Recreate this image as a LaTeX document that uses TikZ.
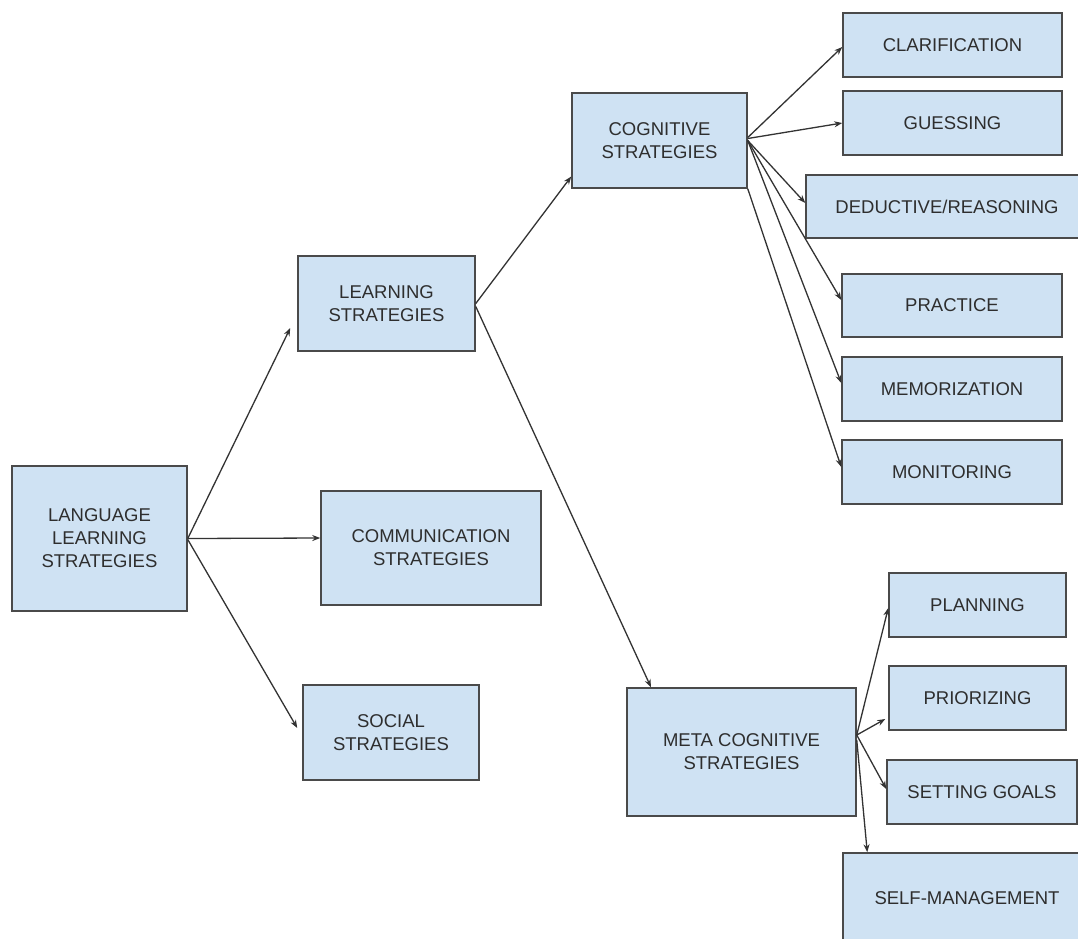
\documentclass[tikz,border=0pt]{standalone}
\usepackage{fontspec}
\setmainfont{Liberation Sans}
\usetikzlibrary{arrows.meta}
\definecolor{boxfill}{HTML}{CFE2F3}
\definecolor{boxline}{HTML}{4A4A4A}
\definecolor{txt}{HTML}{2E2E2E}
\definecolor{conn}{HTML}{333333}
\begin{document}
\begin{tikzpicture}[x=1pt,y=-1pt,
  box/.style={draw=boxline, line width=1.5pt, fill=boxfill, rectangle, inner sep=0pt,
    align=center, text=txt, font=\fontsize{18.5}{23}\selectfont},
  conn/.style={draw=conn, line width=1.3pt, -{Stealth[length=8pt,width=6pt]}}]
\fill[white] (0,0) rectangle (1078,938);
\useasboundingbox (0,0) rectangle (1078,938);
\clip (0,0) rectangle (1078,938);

\node[box, minimum width=175pt, minimum height=145pt] (lls) at (99.5,538.5) {LANGUAGE\\LEARNING\\STRATEGIES};
\node[box, minimum width=177pt, minimum height=95pt] (ls) at (386.5,303.5) {LEARNING\\STRATEGIES};
\node[box, minimum width=220pt, minimum height=114pt] (comm) at (431,548) {COMMUNICATION\\STRATEGIES};
\node[box, minimum width=176pt, minimum height=95pt] (soc) at (391,732.5) {SOCIAL\\STRATEGIES};
\node[box, minimum width=175pt, minimum height=95pt] (cog) at (659.5,140.5) {COGNITIVE\\STRATEGIES};
\node[box, minimum width=229pt, minimum height=128pt] (meta) at (741.5,752) {META COGNITIVE\\STRATEGIES};
\node[box, minimum width=219pt, minimum height=64pt] (clar) at (952.5,45) {CLARIFICATION};
\node[box, minimum width=219pt, minimum height=64pt] (gues) at (952.5,123) {GUESSING};
\node[box, minimum width=282pt, minimum height=63pt] (ded) at (947,206.5) {DEDUCTIVE/REASONING};
\node[box, minimum width=220pt, minimum height=63pt] (prac) at (952,305.5) {PRACTICE};
\node[box, minimum width=220pt, minimum height=64pt] (memo) at (952,389) {MEMORIZATION};
\node[box, minimum width=220pt, minimum height=64pt] (moni) at (952,472) {MONITORING};
\node[box, minimum width=177pt, minimum height=64pt] (plan) at (977.5,605) {PLANNING};
\node[box, minimum width=177pt, minimum height=64pt] (prio) at (977.5,698) {PRIORIZING};
\node[box, minimum width=190pt, minimum height=64pt] (goal) at (982,792) {SETTING GOALS};
\node[box, minimum width=248pt, minimum height=90pt] (self) at (967,898) {SELF-MANAGEMENT};

% level 1
\draw[conn] (lls.east) -- ([xshift=-7pt,yshift=-24.5pt]ls.west);
\draw[conn] (lls.east) -- ([yshift=10pt]comm.west);
\draw[conn] ([yshift=-1pt]lls.east) -- ([xshift=-5pt,yshift=4.5pt]soc.west);
% level 2
\draw[conn] (ls.east) -- ([yshift=-36pt]cog.west);
\draw[conn] ([yshift=-3pt]ls.east) -- ([xshift=-90.5pt]meta.north);
% cognitive
\draw[conn] ([yshift=3pt]cog.east) -- ([yshift=-2pt]clar.west);
\draw[conn] ([yshift=2pt]cog.east) -- (gues.west);
\draw[conn] (cog.east) -- ([yshift=3.5pt]ded.west);
\draw[conn] (cog.east) -- ([yshift=5.5pt]prac.west);
\draw[conn] (cog.east) -- ([yshift=6pt]memo.west);
\draw[conn] (cog.south east) -- ([yshift=5pt]moni.west);
% meta cognitive
\draw[conn] ([yshift=17pt]meta.east) -- ([yshift=-3pt]plan.west);
\draw[conn] ([yshift=17pt]meta.east) -- ([xshift=-3pt,yshift=-21pt]prio.west);
\draw[conn] ([yshift=17pt]meta.east) -- ([yshift=3pt]goal.west);
\draw[conn] ([yshift=12pt]meta.east) -- ([xshift=25pt]self.north west);
\end{tikzpicture}
\end{document}
